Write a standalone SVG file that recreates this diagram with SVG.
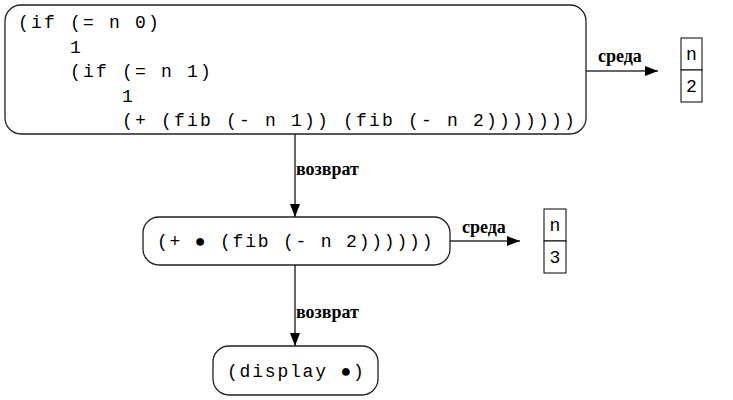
<svg xmlns="http://www.w3.org/2000/svg" width="733" height="400" viewBox="0 0 733 400">
<defs>
<marker id="ah" viewBox="0 0 13 10" refX="13" refY="5" markerWidth="13" markerHeight="10" markerUnits="userSpaceOnUse" orient="auto">
<path d="M0,0 L13,5 L0,10 Z" fill="#000"/>
</marker>
<style>
.box{fill:#fff;stroke:#222;stroke-width:1.3}
.cell{fill:#fff;stroke:#000;stroke-width:1}
.code{font-family:"Liberation Mono","DejaVu Sans Mono",monospace;font-size:18px;letter-spacing:2.2px;fill:#000;white-space:pre}
.code2{letter-spacing:1.8px}
.cellt{font-family:"Liberation Mono","DejaVu Sans Mono",monospace;font-size:18px;fill:#000;text-anchor:middle}
.lbl{font-family:"Liberation Serif","DejaVu Serif",serif;font-size:18px;fill:#000;font-weight:bold}
.edge{stroke:#333;stroke-width:1.5;fill:none;marker-end:url(#ah)}
</style>
</defs>
<rect width="733" height="400" fill="#fff"/>
<g id="connectors">
<line class="edge" x1="586" y1="71" x2="658" y2="71"/>
<text class="lbl" x="598" y="62">среда</text>
<line class="edge" x1="295" y1="134" x2="295" y2="217"/>
<text class="lbl" x="296" y="175">возврат</text>
<line class="edge" x1="450" y1="241" x2="520" y2="241"/>
<text class="lbl" x="462" y="233">среда</text>
<line class="edge" x1="295" y1="265" x2="295" y2="346"/>
<text class="lbl" x="296" y="318">возврат</text>
</g>
<g id="node-fib">
<rect class="box" x="5" y="5" width="581" height="129" rx="16"/>
<text class="code" x="18" y="28">(if (= n 0)</text>
<text class="code" x="18" y="52.5">    1</text>
<text class="code" x="18" y="77">    (if (= n 1)</text>
<text class="code" x="18" y="101.5">        1</text>
<text class="code" x="18" y="126">        (+ (fib (- n 1)) (fib (- n 2)))))))</text>
</g>
<g id="env-1">
<rect class="cell" x="681" y="38" width="21" height="32"/>
<rect class="cell" x="681" y="70" width="21" height="32"/>
<text class="cellt" x="691.5" y="60">n</text>
<text class="cellt" x="691.5" y="92">2</text>
</g>
<g id="node-plus">
<rect class="box" x="143" y="217" width="307" height="48" rx="16"/>
<text class="code code2" x="157" y="247">(+ ● (fib (- n 2))))))</text>
</g>
<g id="env-2">
<rect class="cell" x="544" y="209" width="22" height="32"/>
<rect class="cell" x="544" y="241" width="22" height="32"/>
<text class="cellt" x="555" y="231">n</text>
<text class="cellt" x="555" y="263">3</text>
</g>
<g id="node-display">
<rect class="box" x="213" y="346" width="165" height="49" rx="16"/>
<text class="code code2" x="227" y="377">(display ●)</text>
</g>
</svg>
